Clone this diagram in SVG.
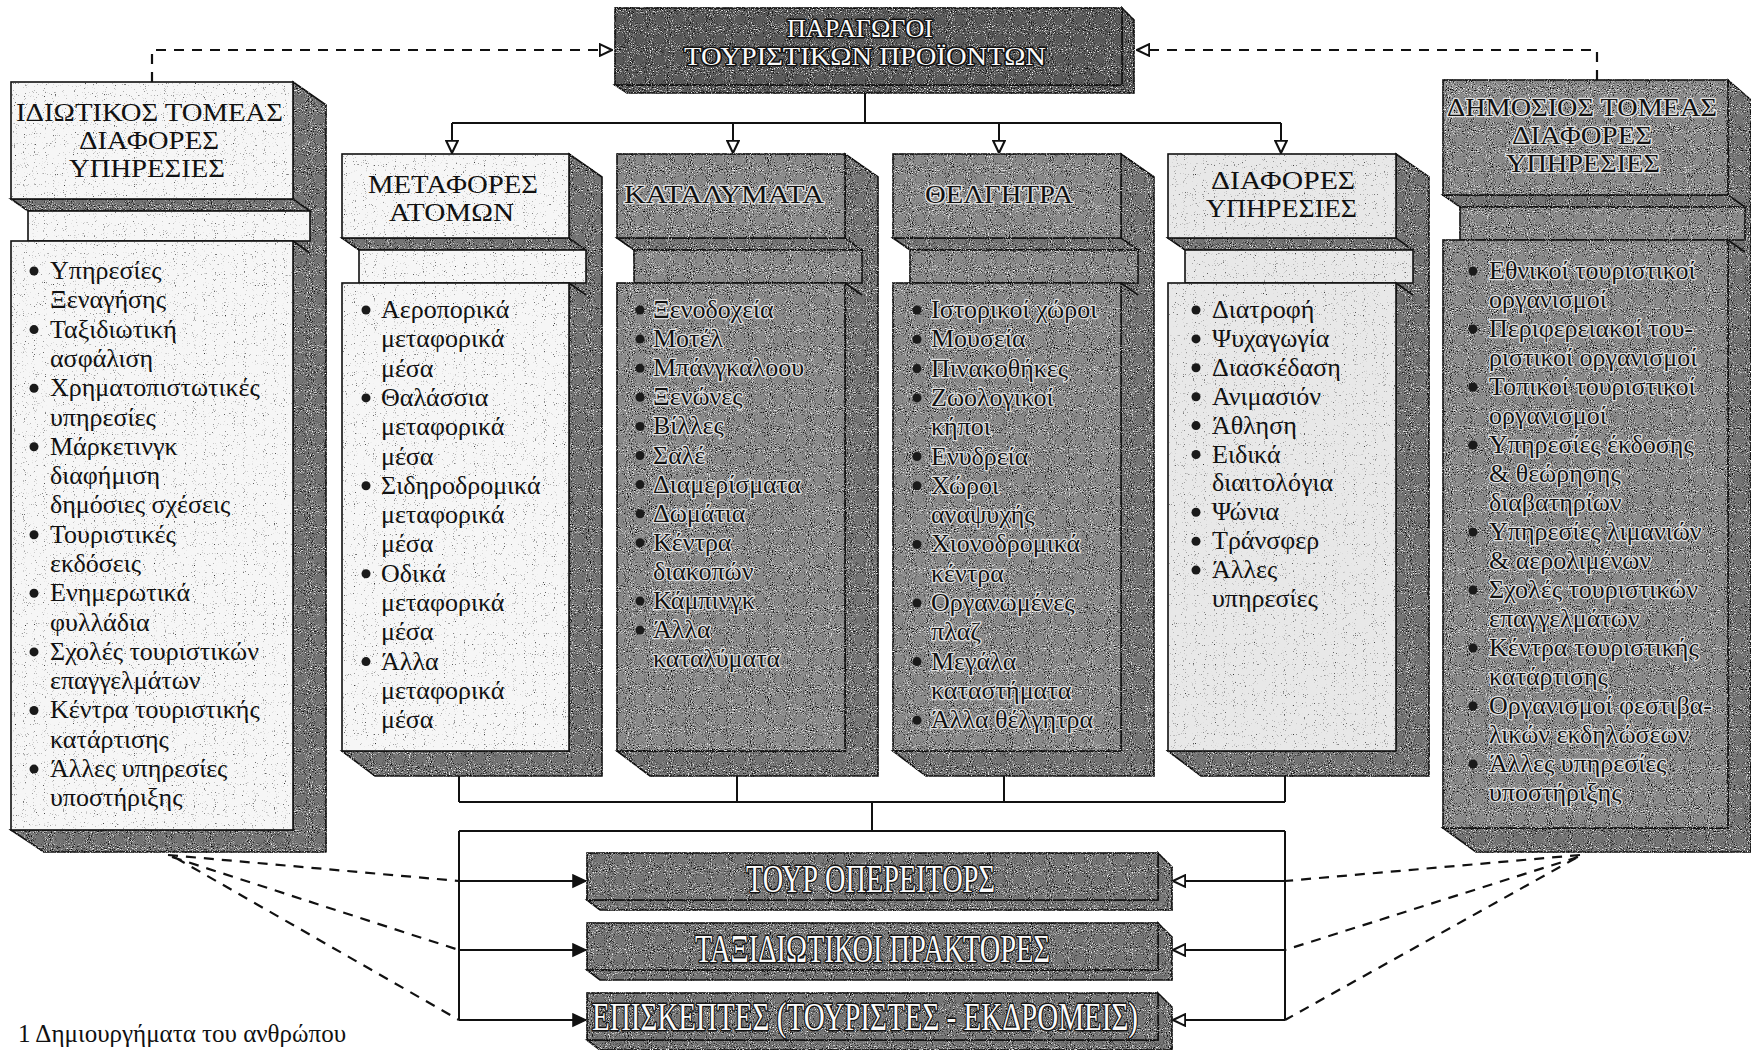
<svg xmlns="http://www.w3.org/2000/svg" width="1751" height="1050" viewBox="0 0 1751 1050">
<defs>
<filter id="gr" filterUnits="userSpaceOnUse" x="0" y="0" width="1751" height="1050" color-interpolation-filters="sRGB">
<feTurbulence type="fractalNoise" baseFrequency="0.95" numOctaves="1" seed="4" result="n"/>
<feColorMatrix in="n" type="matrix" values="0 0 0 0 0  0 0 0 0 0  0 0 0 0 0  5 0 0 0 -2.75" result="b"/>
<feColorMatrix in="n" type="matrix" values="0 0 0 0 1  0 0 0 0 1  0 0 0 0 1  0 5 0 0 -2.85" result="w"/>
<feComposite in="b" in2="SourceGraphic" operator="in" result="bi"/>
<feComposite in="w" in2="SourceGraphic" operator="in" result="wi"/>
<feMerge><feMergeNode in="SourceGraphic"/><feMergeNode in="bi"/><feMergeNode in="wi"/></feMerge>
</filter>
<filter id="gl" filterUnits="userSpaceOnUse" x="0" y="0" width="1751" height="1050" color-interpolation-filters="sRGB">
<feTurbulence type="fractalNoise" baseFrequency="0.9" numOctaves="1" seed="9" result="n"/>
<feColorMatrix in="n" type="matrix" values="0 0 0 0 0.2  0 0 0 0 0.2  0 0 0 0 0.2  6 0 0 0 -3.9" result="b"/>
<feComposite in="b" in2="SourceGraphic" operator="in" result="bi"/>
<feMerge><feMergeNode in="SourceGraphic"/><feMergeNode in="bi"/></feMerge>
</filter>
<style>
.f{stroke:#111;stroke-width:1.6}
.lt{fill:#f6f6f6;filter:url(#gl)}
.lt2{fill:#e8e8e8;filter:url(#gl)}
.dk{fill:#8a8a8a;filter:url(#gr)}
.sd{fill:#747474;stroke:#111;stroke-width:1.6;filter:url(#gr)}
.td{fill:#5a5a5a;stroke:#111;stroke-width:1.6;filter:url(#gr)}
.bar{fill:#767676;filter:url(#gr)}
.hd{font-family:"Liberation Serif","DejaVu Serif",serif;font-size:25px;fill:#111}
.it{font-family:"Liberation Serif","DejaVu Serif",serif;font-size:26px;fill:#111}
.halo{stroke:#e2e2e2;stroke-width:2.6;paint-order:stroke;stroke-linejoin:round}
.bn{font-family:"Liberation Serif","DejaVu Serif",serif;font-size:40px;fill:#fafafa;stroke:#111;stroke-width:3;paint-order:stroke;stroke-linejoin:round}
.tp{font-family:"Liberation Serif","DejaVu Serif",serif;font-size:25px;fill:#fafafa;stroke:#111;stroke-width:3;paint-order:stroke;stroke-linejoin:round}
.con{fill:none;stroke:#111;stroke-width:2}
.dash{fill:none;stroke:#111;stroke-width:2.2;stroke-dasharray:10 8}
.bul{fill:#1a1a1a}
</style>
<marker id="ao" viewBox="0 0 12 12" refX="11.5" refY="6" markerWidth="14" markerHeight="14" markerUnits="userSpaceOnUse" orient="auto"><path d="M1,1 L11.5,6 L1,11 Z" fill="#fff" stroke="#111" stroke-width="1.8"/></marker>
<marker id="af" viewBox="0 0 12 12" refX="11.5" refY="6" markerWidth="15" markerHeight="15" markerUnits="userSpaceOnUse" orient="auto"><path d="M1,1 L11.5,6 L1,11 Z" fill="#111" stroke="#111" stroke-width="1"/></marker>
</defs>
<rect x="0" y="0" width="1751" height="1050" fill="#fff"/>

<g id="connectors">
<path class="dash" d="M152,82 V50 H612" marker-end="url(#ao)"/>
<path class="dash" d="M1597,80 V50 H1137" marker-end="url(#ao)"/>
<path class="con" d="M865,93 V123 M452,123 H1281"/>
<path class="con" d="M452,123 V153" marker-end="url(#ao)"/>
<path class="con" d="M733,123 V153" marker-end="url(#ao)"/>
<path class="con" d="M999,123 V153" marker-end="url(#ao)"/>
<path class="con" d="M1281,123 V153" marker-end="url(#ao)"/>
<path class="con" d="M459,776 V802 M737,776 V802 M1004,776 V802 M1285,776 V802 M459,802 H1285 M872,802 V831 M459,831 H1285 M459,831 V1020 M1285,831 V1020"/>
<path class="con" d="M459,881 H586" marker-end="url(#af)"/>
<path class="con" d="M459,950 H586" marker-end="url(#af)"/>
<path class="con" d="M459,1020 H586" marker-end="url(#af)"/>
<path class="con" d="M1285,881 H1173" marker-end="url(#ao)"/>
<path class="con" d="M1285,950 H1173" marker-end="url(#ao)"/>
<path class="con" d="M1285,1020 H1173" marker-end="url(#ao)"/>
<path class="dash" d="M168,855 L459,881 M172,857 L459,950 M176,858 L459,1020"/>
<path class="dash" d="M1580,855 L1285,881 M1578,857 L1285,950 M1576,858 L1285,1020"/>
</g>

<g id="producers">
<polygon class="td" points="1122,8 1134,20 1134,93 627,93 615,85 1122,85"/>
<rect class="f td" x="615" y="8" width="507" height="77"/>
<text class="tp"><tspan x="787" y="37" textLength="146" lengthAdjust="spacingAndGlyphs">ΠΑΡΑΓΩΓΟΙ</tspan><tspan x="684" y="65" textLength="362" lengthAdjust="spacingAndGlyphs">ΤΟΥΡΙΣΤΙΚΩΝ ΠΡΟΪΟΝΤΩΝ</tspan></text>
</g>

<g id="private-sector">
<polygon class="sd" points="293,82 326,105 326,852 44,852 11,830 293,830"/>
<polygon class="sd" points="11,199 293,199 310,211 28,211"/>
<rect class="f lt" x="28" y="211" width="282" height="30"/>
<rect class="f lt" x="11" y="82" width="282" height="117"/>
<rect class="f lt" x="11" y="241" width="282" height="589"/>
<line class="f" x1="293" y1="241" x2="310" y2="253"/>
<text class="hd"><tspan x="16" y="121" textLength="267" lengthAdjust="spacingAndGlyphs">ΙΔΙΩΤΙΚΟΣ ΤΟΜΕΑΣ</tspan><tspan x="79" y="149" textLength="140" lengthAdjust="spacingAndGlyphs">ΔΙΑΦΟΡΕΣ</tspan><tspan x="69" y="177" textLength="156" lengthAdjust="spacingAndGlyphs">ΥΠΗΡΕΣΙΕΣ</tspan></text>
<g class="bul"><circle cx="34" cy="271" r="4.5"/><circle cx="34" cy="329.6" r="4.5"/><circle cx="34" cy="388.2" r="4.5"/><circle cx="34" cy="446.8" r="4.5"/><circle cx="34" cy="534.7" r="4.5"/><circle cx="34" cy="593.3" r="4.5"/><circle cx="34" cy="651.9" r="4.5"/><circle cx="34" cy="710.5" r="4.5"/><circle cx="34" cy="769.1" r="4.5"/></g>
<text class="it" y="279"><tspan x="50">Υπηρεσίες</tspan><tspan x="50" dy="29.3">Ξεναγήσης</tspan><tspan x="50" dy="29.3">Ταξιδιωτική</tspan><tspan x="50" dy="29.3">ασφάλιση</tspan><tspan x="50" dy="29.3">Χρηματοπιστωτικές</tspan><tspan x="50" dy="29.3">υπηρεσίες</tspan><tspan x="50" dy="29.3">Μάρκετινγκ</tspan><tspan x="50" dy="29.3">διαφήμιση</tspan><tspan x="50" dy="29.3">δημόσιες σχέσεις</tspan><tspan x="50" dy="29.3">Τουριστικές</tspan><tspan x="50" dy="29.3">εκδόσεις</tspan><tspan x="50" dy="29.3">Ενημερωτικά</tspan><tspan x="50" dy="29.3">φυλλάδια</tspan><tspan x="50" dy="29.3">Σχολές τουριστικών</tspan><tspan x="50" dy="29.3">επαγγελμάτων</tspan><tspan x="50" dy="29.3">Κέντρα τουριστικής</tspan><tspan x="50" dy="29.3">κατάρτισης</tspan><tspan x="50" dy="29.3">Άλλες υπηρεσίες</tspan><tspan x="50" dy="29.3">υποστήριξης</tspan></text>
</g>

<g id="transport">
<polygon class="sd" points="569,154 602,177 602,776 375,776 342,751 569,751"/>
<polygon class="sd" points="342,238 569,238 586,250 359,250"/>
<rect class="f lt" x="359" y="250" width="227" height="33"/>
<rect class="f lt" x="342" y="154" width="227" height="84"/>
<rect class="f lt" x="342" y="283" width="227" height="468"/>
<line class="f" x1="569" y1="283" x2="586" y2="295"/>
<text class="hd"><tspan x="368" y="193" textLength="170" lengthAdjust="spacingAndGlyphs">ΜΕΤΑΦΟΡΕΣ</tspan><tspan x="389" y="221" textLength="125" lengthAdjust="spacingAndGlyphs">ΑΤΟΜΩΝ</tspan></text>
<g class="bul"><circle cx="366" cy="310" r="4.5"/><circle cx="366" cy="397.9" r="4.5"/><circle cx="366" cy="485.8" r="4.5"/><circle cx="366" cy="573.7" r="4.5"/><circle cx="366" cy="661.6" r="4.5"/></g>
<text class="it" y="318"><tspan x="381">Αεροπορικά</tspan><tspan x="381" dy="29.3">μεταφορικά</tspan><tspan x="381" dy="29.3">μέσα</tspan><tspan x="381" dy="29.3">Θαλάσσια</tspan><tspan x="381" dy="29.3">μεταφορικά</tspan><tspan x="381" dy="29.3">μέσα</tspan><tspan x="381" dy="29.3">Σιδηροδρομικά</tspan><tspan x="381" dy="29.3">μεταφορικά</tspan><tspan x="381" dy="29.3">μέσα</tspan><tspan x="381" dy="29.3">Οδικά</tspan><tspan x="381" dy="29.3">μεταφορικά</tspan><tspan x="381" dy="29.3">μέσα</tspan><tspan x="381" dy="29.3">Άλλα</tspan><tspan x="381" dy="29.3">μεταφορικά</tspan><tspan x="381" dy="29.3">μέσα</tspan></text>
</g>

<g id="accommodation">
<polygon class="sd" points="845,154 878,177 878,776 650,776 617,751 845,751"/>
<polygon class="sd" points="617,238 845,238 862,250 634,250"/>
<rect class="f dk" x="634" y="250" width="228" height="33"/>
<rect class="f dk" x="617" y="154" width="228" height="84"/>
<rect class="f dk" x="617" y="283" width="228" height="468"/>
<line class="f" x1="845" y1="283" x2="862" y2="295"/>
<text class="hd halo" x="624" y="203" textLength="200" lengthAdjust="spacingAndGlyphs">ΚΑΤΑΛΥΜΑΤΑ</text>
<g class="bul"><circle cx="640" cy="310" r="4.5"/><circle cx="640" cy="339.1" r="4.5"/><circle cx="640" cy="368.2" r="4.5"/><circle cx="640" cy="397.3" r="4.5"/><circle cx="640" cy="426.4" r="4.5"/><circle cx="640" cy="455.5" r="4.5"/><circle cx="640" cy="484.6" r="4.5"/><circle cx="640" cy="513.7" r="4.5"/><circle cx="640" cy="542.8" r="4.5"/><circle cx="640" cy="601" r="4.5"/><circle cx="640" cy="630.1" r="4.5"/></g>
<text class="it halo" y="318"><tspan x="653">Ξενοδοχεία</tspan><tspan x="653" dy="29.1">Μοτέλ</tspan><tspan x="653" dy="29.1">Μπάνγκαλοου</tspan><tspan x="653" dy="29.1">Ξενώνες</tspan><tspan x="653" dy="29.1">Βίλλες</tspan><tspan x="653" dy="29.1">Σαλέ</tspan><tspan x="653" dy="29.1">Διαμερίσματα</tspan><tspan x="653" dy="29.1">Δωμάτια</tspan><tspan x="653" dy="29.1">Κέντρα</tspan><tspan x="653" dy="29.1">διακοπών</tspan><tspan x="653" dy="29.1">Κάμπινγκ</tspan><tspan x="653" dy="29.1">Άλλα</tspan><tspan x="653" dy="29.1">καταλύματα</tspan></text>
</g>

<g id="attractions">
<polygon class="sd" points="1121,154 1154,177 1154,776 926,776 893,751 1121,751"/>
<polygon class="sd" points="893,238 1121,238 1138,250 910,250"/>
<rect class="f dk" x="910" y="250" width="228" height="33"/>
<rect class="f dk" x="893" y="154" width="228" height="84"/>
<rect class="f dk" x="893" y="283" width="228" height="468"/>
<line class="f" x1="1121" y1="283" x2="1138" y2="295"/>
<text class="hd halo" x="925" y="203" textLength="148" lengthAdjust="spacingAndGlyphs">ΘΕΛΓΗΤΡΑ</text>
<g class="bul"><circle cx="917" cy="310" r="4.5"/><circle cx="917" cy="339.3" r="4.5"/><circle cx="917" cy="368.6" r="4.5"/><circle cx="917" cy="397.9" r="4.5"/><circle cx="917" cy="456.5" r="4.5"/><circle cx="917" cy="485.8" r="4.5"/><circle cx="917" cy="544.4" r="4.5"/><circle cx="917" cy="603" r="4.5"/><circle cx="917" cy="661.6" r="4.5"/><circle cx="917" cy="720.2" r="4.5"/></g>
<text class="it halo" y="318"><tspan x="931">Ιστορικοί χώροι</tspan><tspan x="931" dy="29.3">Μουσεία</tspan><tspan x="931" dy="29.3">Πινακοθήκες</tspan><tspan x="931" dy="29.3">Ζωολογικοί</tspan><tspan x="931" dy="29.3">κήποι</tspan><tspan x="931" dy="29.3">Ενυδρεία</tspan><tspan x="931" dy="29.3">Χώροι</tspan><tspan x="931" dy="29.3">αναψυχής</tspan><tspan x="931" dy="29.3">Χιονοδρομικά</tspan><tspan x="931" dy="29.3">κέντρα</tspan><tspan x="931" dy="29.3">Οργανωμένες</tspan><tspan x="931" dy="29.3">πλαζ</tspan><tspan x="931" dy="29.3">Μεγάλα</tspan><tspan x="931" dy="29.3">καταστήματα</tspan><tspan x="931" dy="29.3">Άλλα θέλγητρα</tspan></text>
</g>

<g id="other-services">
<polygon class="sd" points="1396,154 1429,177 1429,776 1201,776 1168,751 1396,751"/>
<polygon class="sd" points="1168,238 1396,238 1413,250 1185,250"/>
<rect class="f lt2" x="1185" y="250" width="228" height="33"/>
<rect class="f lt2" x="1168" y="154" width="228" height="84"/>
<rect class="f lt2" x="1168" y="283" width="228" height="468"/>
<line class="f" x1="1396" y1="283" x2="1413" y2="295"/>
<text class="hd"><tspan x="1211" y="189" textLength="144" lengthAdjust="spacingAndGlyphs">ΔΙΑΦΟΡΕΣ</tspan><tspan x="1206" y="217" textLength="151" lengthAdjust="spacingAndGlyphs">ΥΠΗΡΕΣΙΕΣ</tspan></text>
<g class="bul"><circle cx="1196" cy="310" r="4.5"/><circle cx="1196" cy="338.9" r="4.5"/><circle cx="1196" cy="367.8" r="4.5"/><circle cx="1196" cy="396.7" r="4.5"/><circle cx="1196" cy="425.6" r="4.5"/><circle cx="1196" cy="454.5" r="4.5"/><circle cx="1196" cy="512.3" r="4.5"/><circle cx="1196" cy="541.2" r="4.5"/><circle cx="1196" cy="570.1" r="4.5"/></g>
<text class="it" y="318"><tspan x="1212">Διατροφή</tspan><tspan x="1212" dy="28.9">Ψυχαγωγία</tspan><tspan x="1212" dy="28.9">Διασκέδαση</tspan><tspan x="1212" dy="28.9">Ανιμασιόν</tspan><tspan x="1212" dy="28.9">Άθληση</tspan><tspan x="1212" dy="28.9">Ειδικά</tspan><tspan x="1212" dy="28.9">διαιτολόγια</tspan><tspan x="1212" dy="28.9">Ψώνια</tspan><tspan x="1212" dy="28.9">Τράνσφερ</tspan><tspan x="1212" dy="28.9">Άλλες</tspan><tspan x="1212" dy="28.9">υπηρεσίες</tspan></text>
</g>

<g id="public-sector">
<polygon class="sd" points="1728,80 1751,100 1751,852 1476,852 1443,828 1728,828"/>
<polygon class="sd" points="1443,195 1728,195 1745,207 1460,207"/>
<rect class="f dk" x="1460" y="207" width="285" height="33"/>
<rect class="f dk" x="1443" y="80" width="285" height="115"/>
<rect class="f dk" x="1443" y="240" width="285" height="588"/>
<line class="f" x1="1728" y1="240" x2="1745" y2="252"/>
<text class="hd halo"><tspan x="1447" y="116" textLength="270" lengthAdjust="spacingAndGlyphs">ΔΗΜΟΣΙΟΣ ΤΟΜΕΑΣ</tspan><tspan x="1512" y="144" textLength="140" lengthAdjust="spacingAndGlyphs">ΔΙΑΦΟΡΕΣ</tspan><tspan x="1506" y="172" textLength="154" lengthAdjust="spacingAndGlyphs">ΥΠΗΡΕΣΙΕΣ</tspan></text>
<g class="bul"><circle cx="1473" cy="271" r="4.5"/><circle cx="1473" cy="329" r="4.5"/><circle cx="1473" cy="387" r="4.5"/><circle cx="1473" cy="445" r="4.5"/><circle cx="1473" cy="532" r="4.5"/><circle cx="1473" cy="590" r="4.5"/><circle cx="1473" cy="648" r="4.5"/><circle cx="1473" cy="706" r="4.5"/><circle cx="1473" cy="764" r="4.5"/></g>
<text class="it halo" y="279"><tspan x="1489">Εθνικοί τουριστικοί</tspan><tspan x="1489" dy="29">οργανισμοί</tspan><tspan x="1489" dy="29">Περιφερειακοί του-</tspan><tspan x="1489" dy="29">ριστικοί οργανισμοί</tspan><tspan x="1489" dy="29">Τοπικοί τουριστικοί</tspan><tspan x="1489" dy="29">οργανισμοί</tspan><tspan x="1489" dy="29">Υπηρεσίες έκδοσης</tspan><tspan x="1489" dy="29">&amp; θεώρησης</tspan><tspan x="1489" dy="29">διαβατηρίων</tspan><tspan x="1489" dy="29">Υπηρεσίες λιμανιών</tspan><tspan x="1489" dy="29">&amp; αερολιμένων</tspan><tspan x="1489" dy="29">Σχολές τουριστικών</tspan><tspan x="1489" dy="29">επαγγελμάτων</tspan><tspan x="1489" dy="29">Κέντρα τουριστικής</tspan><tspan x="1489" dy="29">κατάρτισης</tspan><tspan x="1489" dy="29">Οργανισμοί φεστιβα-</tspan><tspan x="1489" dy="29">λικών εκδηλώσεων</tspan><tspan x="1489" dy="29">Άλλες υπηρεσίες</tspan><tspan x="1489" dy="29">υποστήριξης</tspan></text>
</g>

<g id="tour-operators">
<polygon class="sd" points="1158,853 1172,867 1172,910 600,910 587,900 1158,900"/>
<rect class="f bar" x="587" y="853" width="571" height="47"/>
<text class="bn" x="746" y="892" textLength="249" lengthAdjust="spacingAndGlyphs">ΤΟΥΡ ΟΠΕΡΕΙΤΟΡΣ</text>
</g>
<g id="travel-agents">
<polygon class="sd" points="1158,923 1172,937 1172,980 600,980 587,970 1158,970"/>
<rect class="f bar" x="587" y="923" width="571" height="47"/>
<text class="bn" x="695" y="962" textLength="355" lengthAdjust="spacingAndGlyphs">ΤΑΞΙΔΙΩΤΙΚΟΙ ΠΡΑΚΤΟΡΕΣ</text>
</g>
<g id="visitors">
<polygon class="sd" points="1158,993 1172,1007 1172,1050 600,1050 587,1040 1158,1040"/>
<rect class="f bar" x="587" y="993" width="571" height="47"/>
<text class="bn" x="592" y="1030" textLength="546" lengthAdjust="spacingAndGlyphs">ΕΠΙΣΚΕΠΤΕΣ (ΤΟΥΡΙΣΤΕΣ - ΕΚΔΡΟΜΕΙΣ)</text>
</g>

<text class="it" x="18" y="1042" style="font-size:25px">1 Δημιουργήματα του ανθρώπου</text>
</svg>
